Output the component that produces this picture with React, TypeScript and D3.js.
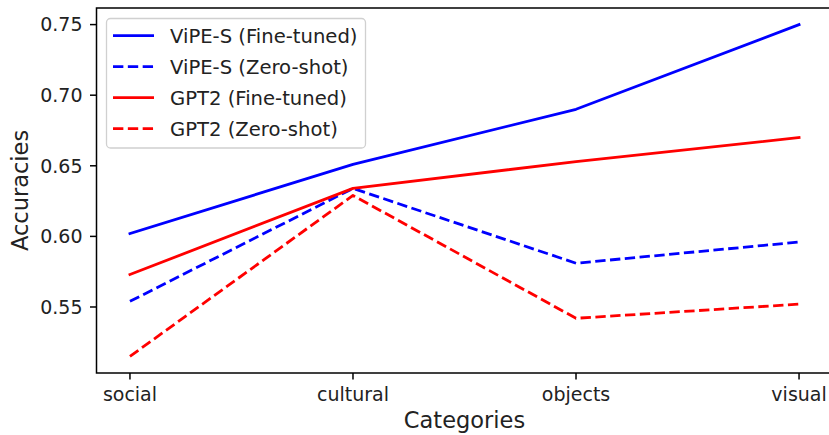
import React from "react";
import * as d3 from "d3";

const categories = ["social", "cultural", "objects", "visual"];
const vipeFineTuned = [0.602, 0.651, 0.69, 0.75];
const vipeZeroShot = [0.554, 0.634, 0.581, 0.596];
const gpt2FineTuned = [0.573, 0.634, 0.653, 0.67];
const gpt2ZeroShot = [0.515, 0.629, 0.542, 0.552];
const yTicks = [0.55, 0.6, 0.65, 0.7, 0.75];

const seriesList = [
  { name: "ViPE-S (Fine-tuned)", values: vipeFineTuned, color: "#0000ff", dashed: false },
  { name: "ViPE-S (Zero-shot)", values: vipeZeroShot, color: "#0000ff", dashed: true },
  { name: "GPT2 (Fine-tuned)", values: gpt2FineTuned, color: "#ff0000", dashed: false },
  { name: "GPT2 (Zero-shot)", values: gpt2ZeroShot, color: "#ff0000", dashed: true },
];

const W = 829;
const H = 435;
const left = 96.5;
const right = 832.5;
const top = 8;
const bottom = 373;
const font = "DejaVu Sans, sans-serif";
const lw = 2.8;

export default function App() {
  const all = seriesList.flatMap((s) => s.values);
  const lo = d3.min(all) as number;
  const hi = d3.max(all) as number;
  const pad = (hi - lo) * 0.05;
  const y = d3.scaleLinear().domain([lo - pad, hi + pad]).range([bottom, top]);
  const n = categories.length - 1;
  const x = d3.scaleLinear().domain([-0.05 * n, n + 0.05 * n]).range([left, right]);
  const line = d3
    .line<number>()
    .x((_, i) => x(i))
    .y((v) => y(v));

  return (
    <svg
      width={W}
      height={H}
      style={{ position: "absolute", left: 0, top: 0, background: "#fff" }}
      fontFamily={font}
    >
      <rect x={0} y={0} width={W} height={H} fill="#fff" />
      {seriesList.map((s) => (
        <path
          key={s.name}
          d={line(s.values) ?? ""}
          fill="none"
          stroke={s.color}
          strokeWidth={lw}
          strokeDasharray={s.dashed ? `${3.7 * lw} ${1.6 * lw}` : undefined}
          strokeLinecap={s.dashed ? "butt" : "square"}
          strokeLinejoin="round"
        />
      ))}
      {/* spines */}
      <rect x={left} y={top} width={right - left} height={bottom - top} fill="none" stroke="#000" strokeWidth={1.5} />
      {/* y ticks */}
      {yTicks.map((t) => (
        <g key={t} transform={`translate(0,${y(t)})`}>
          <line x1={left - 6.5} x2={left} stroke="#000" strokeWidth={1.5} />
          <text x={left - 14} dy="0.36em" textAnchor="end" fontSize={19} fill="#222">
            {t.toFixed(2)}
          </text>
        </g>
      ))}
      {/* x ticks */}
      {categories.map((c, i) => (
        <g key={c} transform={`translate(${x(i)},0)`}>
          <line y1={bottom} y2={bottom + 6.5} stroke="#000" strokeWidth={1.5} />
          <text y={bottom + 28} textAnchor="middle" fontSize={19} fill="#222">
            {c}
          </text>
        </g>
      ))}
      <text x={(left + right) / 2} y={428} textAnchor="middle" fontSize={22.5} fill="#222">
        Categories
      </text>
      <text
        transform={`translate(28,${(top + bottom) / 2}) rotate(-90)`}
        textAnchor="middle"
        fontSize={22.5}
        fill="#222"
      >
        Accuracies
      </text>
      {/* legend */}
      <rect x={106.5} y={18.5} width={259} height={129.5} rx={4} fill="#fff" fillOpacity={0.8} stroke="#d0d0d0" strokeWidth={1.3} />
      {seriesList.map((s, i) => {
        const ry = 35.7 + i * 31;
        return (
          <g key={s.name}>
            <line
              x1={113}
              x2={154}
              y1={ry}
              y2={ry}
              stroke={s.color}
              strokeWidth={lw}
              strokeDasharray={s.dashed ? `${3.7 * lw} ${1.6 * lw}` : undefined}
            />
            <text x={170} y={ry} dy="0.36em" fontSize={19.6} fill="#222">
              {s.name}
            </text>
          </g>
        );
      })}
    </svg>
  );
}
